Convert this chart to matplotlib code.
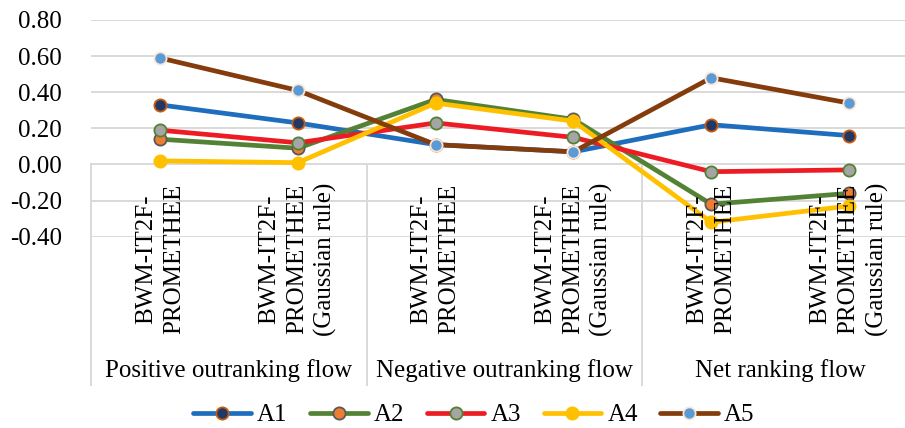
import matplotlib.pyplot as plt
from matplotlib.transforms import blended_transform_factory

plt.rcParams['font.family'] = ['Liberation Serif', 'DejaVu Serif']

# sub-category labels and group labels
categories = ['BWM-IT2F-\nPROMETHEE', 'BWM-IT2F-\nPROMETHEE\n(Gaussian rule)'] * 3
groups = ['Positive outranking flow', 'Negative outranking flow', 'Net ranking flow']
yticks = [-0.4, -0.2, 0.0, 0.2, 0.4, 0.6, 0.8]

series_names = ['A1', 'A2', 'A3', 'A4', 'A5']
A1 = [0.33, 0.23, 0.11, 0.07, 0.22, 0.16]
A2 = [0.14, 0.09, 0.36, 0.25, -0.22, -0.16]
A3 = [0.19, 0.12, 0.23, 0.15, -0.04, -0.03]
A4 = [0.02, 0.01, 0.34, 0.24, -0.32, -0.23]
A5 = [0.59, 0.41, 0.11, 0.07, 0.48, 0.34]

line_colors = ['#1F6EBE', '#548235', '#ED1C24', '#FFC000', '#843C0C']
face_colors = ['#203864', '#ED7D31', '#A5A5A5', '#FFC000', '#5B9BD5']
edge_colors = ['#C55A11', '#595959', '#548235', '#FFC000', '#FBE5D6']

W, H = 905, 428
fig = plt.figure(figsize=(W / 100, H / 100), dpi=100)
# plot area runs past the right edge of the picture (cropped Excel chart)
left, right, top, bottom = 91, 918, 20, 236.7
ax = fig.add_axes([left / W, 1 - bottom / H, (right - left) / W, (bottom - top) / H])

grid_c = '#D9D9D9'
fs = 18
x = list(range(len(categories)))

for name, vals, lc, fc, ec in zip(series_names, [A1, A2, A3, A4, A5],
                                  line_colors, face_colors, edge_colors):
    ax.plot(x, vals, color=lc, lw=3.4, marker='o', ms=8.8, mfc=fc, mec=ec,
            mew=1.3, label=name, solid_capstyle='round', zorder=3)

ax.set_xlim(-0.5, len(categories) - 0.5)
ax.set_ylim(-0.4, 0.8)
ax.set_yticks(yticks)
ax.set_yticklabels(['%.2f' % v for v in yticks], fontsize=fs)
ax.set_xticks([])
ax.tick_params(axis='y', length=0, pad=21)
for s in ax.spines.values():
    s.set_visible(False)
for v in yticks:
    ax.axhline(v, color=grid_c, lw=1.4, zorder=1)

# category axis sits at y = 0
tr = blended_transform_factory(ax.transData, fig.transFigure)
y0 = ax.transData.transform((0, 0))[1] / H
y_end = 1 - 385 / H
for sx in [-0.5, 1.5, 3.5, 5.5]:
    ax.plot([sx, sx], [y0, y_end], color=grid_c, lw=1.4, transform=tr, clip_on=False)

for i, lab in enumerate(categories):
    ax.text(i, 1 - 259 / H, lab, transform=tr, rotation=90, ha='center', va='center',
            multialignment='center', fontsize=fs, linespacing=1.35)

for g, lab in enumerate(groups):
    ax.text(2 * g + 0.5, 1 - 377 / H, lab, transform=tr, ha='center', va='baseline',
            fontsize=fs)

fig.legend(loc='center', bbox_to_anchor=(474 / W, 1 - 415 / H), ncol=5, frameon=False,
           fontsize=fs, handlelength=2.3, handletextpad=0.25, columnspacing=0.9,
           borderpad=0, borderaxespad=0)

fig.savefig('out.png', dpi=100)
